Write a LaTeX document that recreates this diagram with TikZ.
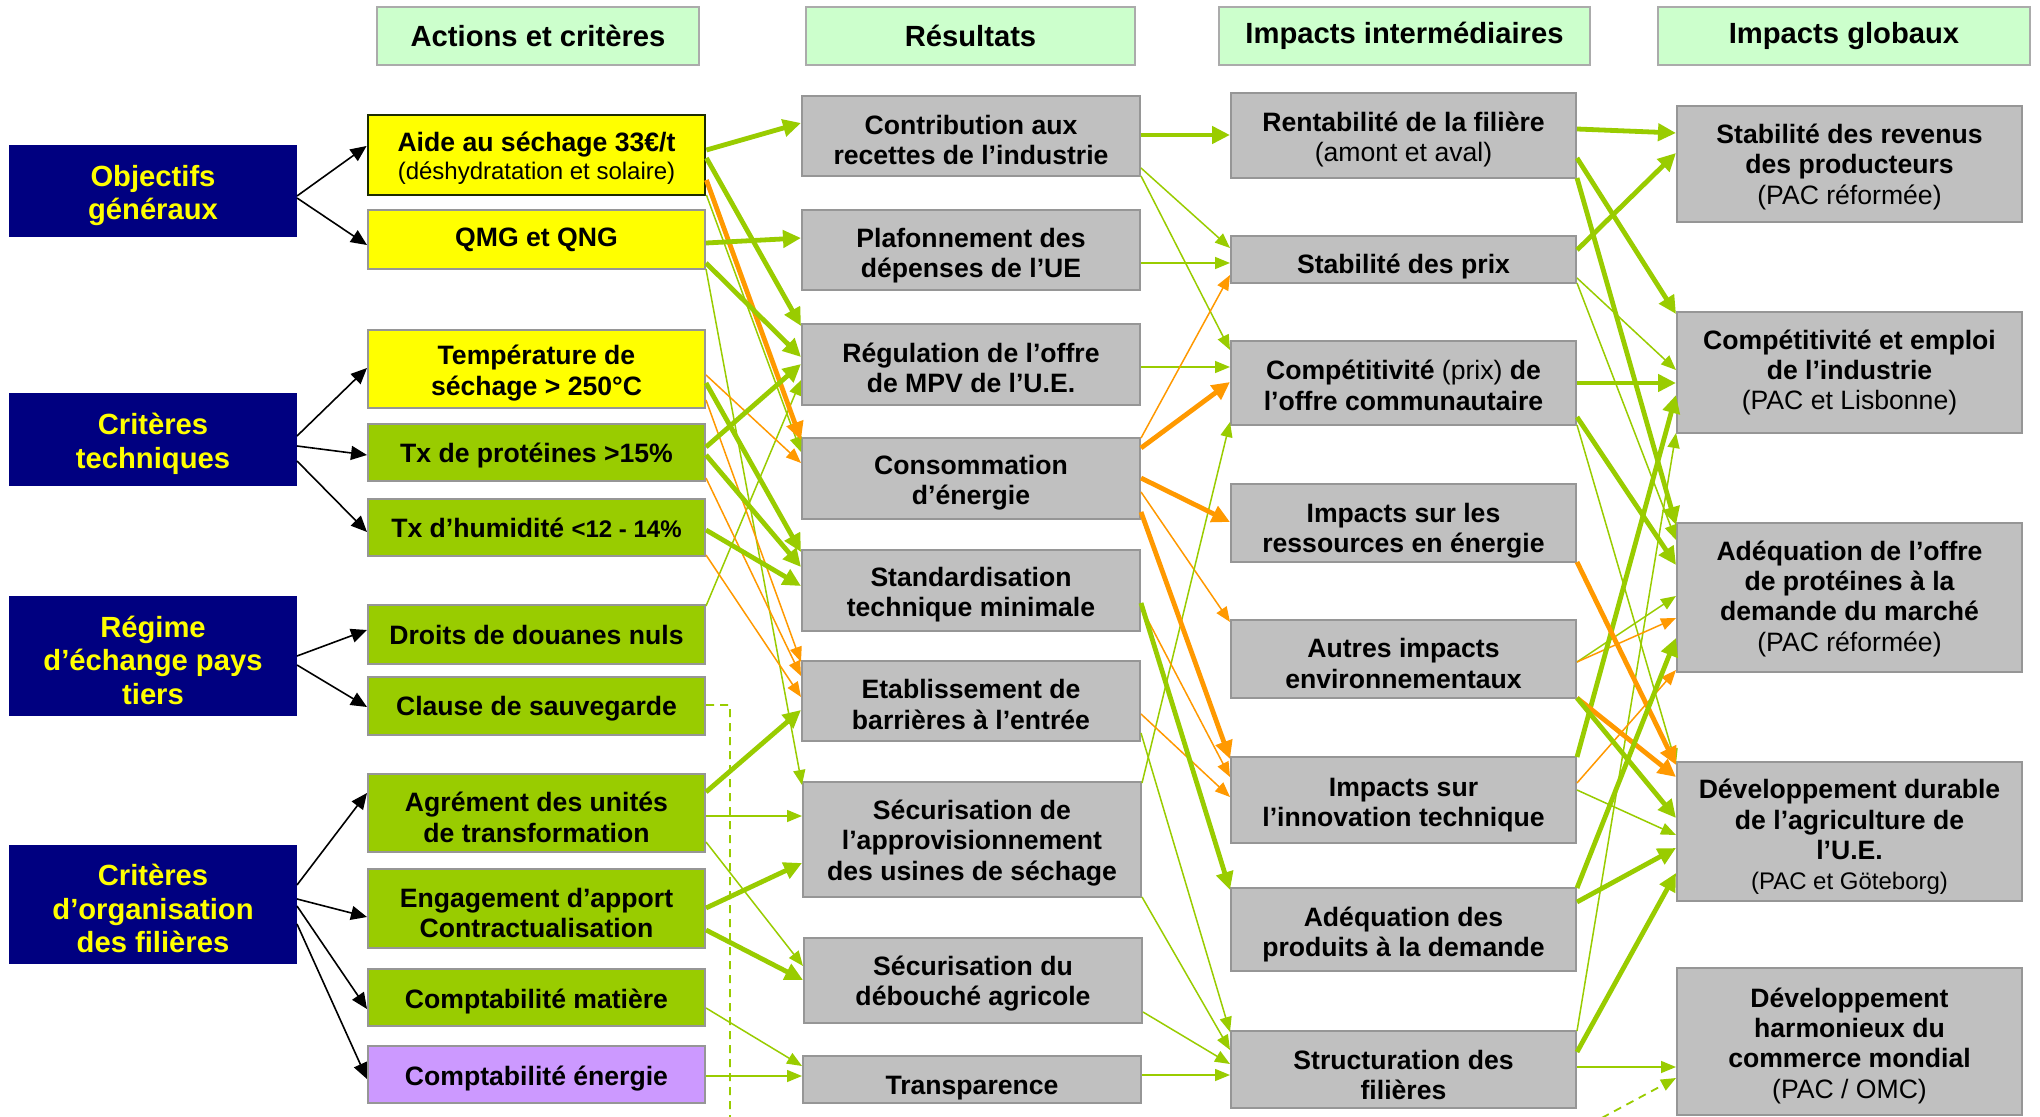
\documentclass[tikz,border=0pt]{standalone}
\usepackage{fontspec}
\setmainfont{Liberation Sans}
\usetikzlibrary{arrows.meta}
\definecolor{agreen}{HTML}{99CC00}
\definecolor{aorange}{HTML}{FF9900}
\definecolor{navyc}{HTML}{000080}
\definecolor{ayel}{HTML}{FFFF00}
\definecolor{hdrg}{HTML}{CCFFCC}
\definecolor{boxg}{HTML}{C0C0C0}
\definecolor{bord}{HTML}{969696}
\definecolor{purp}{HTML}{CC99FF}
\definecolor{aidebord}{HTML}{1E2D00}
\newcommand{\tup}[1]{\rule{0pt}{#1}}
\tikzset{
  basebox/.style={rectangle, inner sep=0pt, align=center, line width=1pt, draw=bord,
    font=\bfseries\fontsize{13.3}{15.2}\selectfont},
  hdr/.style={basebox, fill=hdrg, draw=bord!80, minimum height=29pt,
    font=\bfseries\fontsize{14.6}{17}\selectfont},
  navy/.style={basebox, fill=navyc, draw=navyc, text=ayel, minimum width=143pt,
    font=\bfseries\fontsize{14.6}{16.8}\selectfont},
  ybox/.style={basebox, fill=ayel, minimum width=168.5pt},
  gbox/.style={basebox, fill=agreen, minimum width=168.5pt},
  pbox/.style={basebox, fill=purp, minimum width=168.5pt},
  res/.style={basebox, fill=boxg, minimum width=169pt},
  imi/.style={basebox, fill=boxg, minimum width=172.5pt},
  glo/.style={basebox, fill=boxg, minimum width=172.5pt},
  gk/.style={draw=agreen, line width=2.4pt, -{Triangle[length=9pt,width=8.5pt]}},
  gn/.style={draw=agreen, line width=0.75pt, -{Triangle[length=7.5pt,width=6pt]}},
  ok/.style={draw=aorange, line width=2.4pt, -{Triangle[length=9pt,width=8.5pt]}},
  orn/.style={draw=aorange, line width=0.75pt, -{Triangle[length=7.5pt,width=6pt]}},
  bk/.style={draw=black, line width=0.8pt, -{Triangle[length=8pt,width=7pt]}},
  dsh/.style={draw=agreen, line width=0.9pt, dash pattern=on 4pt off 3pt, -{Triangle[length=7.5pt,width=6pt]}}
}
\begin{document}
\begin{tikzpicture}[x=0.5pt,y=-0.5pt]
\useasboundingbox (0,0) rectangle (2040,1117);
\fill[white] (0,0) rectangle (2040,1117);

% headers
\node[hdr, minimum width=161pt] (h1) at (538,36) {Actions et critères};
\node[hdr, minimum width=164.5pt] (h2) at (970.5,36) {Résultats};
\node[hdr, minimum width=185.5pt] (h3) at (1404.5,36) {Impacts intermédiaires};
\node[hdr, minimum width=186pt] (h4) at (1844,36) {Impacts globaux};

% navy
\node[navy, minimum height=45pt] (obj) at (153,191) {\tup{15pt}Objectifs\\généraux};
\node[navy, minimum height=45.5pt] (tech) at (153,439.5) {\tup{15pt}Critères\\techniques};
\node[navy, minimum height=59pt] (regime) at (153,656) {\tup{15pt}Régime\\d’échange pays\\tiers};
\node[navy, minimum height=58.5pt] (org) at (153,904.5) {\tup{15pt}Critères\\d’organisation\\des filières};

% column 1
\node[ybox, draw=aidebord, line width=1.4pt, minimum height=40pt] (aide) at (536.5,155)
  {\tup{13pt}Aide au séchage 33€/t\\[-1pt]{\mdseries\fontsize{12}{14}\selectfont (déshydratation et solaire)}};
\node[ybox, minimum height=29.5pt] (qmg) at (536.5,239.5) {QMG et QNG};
\node[ybox, minimum height=39pt] (temp) at (536.5,369) {\tup{14pt}Température de\\séchage > 250°C};
\node[gbox, minimum height=28.5pt] (prot) at (536.5,452.5) {\tup{12.5pt}Tx de protéines >15\%};
\node[gbox, minimum height=28.5pt] (hum) at (536.5,527.5) {Tx d’humidité {\fontsize{12}{14}\selectfont <12 - 14\%}};
\node[gbox, minimum height=29.5pt] (droits) at (536.5,634.5) {Droits de douanes nuls};
\node[gbox, minimum height=29pt] (clause) at (536.5,706) {\tup{12.5pt}Clause de sauvegarde};
\node[gbox, minimum height=39pt] (agrem) at (536.5,813) {\tup{14pt}Agrément des unités\\de transformation};
\node[gbox, minimum height=39.5pt] (engag) at (536.5,908.5) {\tup{14pt}Engagement d’apport\\Contractualisation};
\node[gbox, minimum height=28.5pt] (cmat) at (536.5,997.5) {\tup{13.5pt}Comptabilité matière};
\node[pbox, minimum height=28.5pt] (cener) at (536.5,1074.5) {\tup{13.5pt}Comptabilité énergie};

% column 2
\node[res, minimum height=40pt] (contrib) at (971,136) {\tup{13.5pt}Contribution aux\\recettes de l’industrie};
\node[res, minimum height=40pt] (plaf) at (971,250) {\tup{15pt}Plafonnement des\\dépenses de l’UE};
\node[res, minimum height=40.5pt] (regul) at (971,364.5) {\tup{13pt}Régulation de l’offre\\de MPV de l’U.E.};
\node[res, minimum height=40.5pt] (conso) at (971,478.5) {\tup{14pt}Consommation\\d’énergie};
\node[res, minimum height=40.5pt] (standard) at (971,590.5) {\tup{14pt}Standardisation\\technique minimale};
\node[res, minimum height=40pt] (etab) at (971,701) {\tup{13pt}Etablissement de\\barrières à l’entrée};
\node[res, minimum height=57.5pt] (secappro) at (972,839.5) {\tup{13pt}Sécurisation de\\l’approvisionnement\\des usines de séchage};
\node[res, minimum height=42.5pt] (secdeb) at (973,980.5) {\tup{13pt}Sécurisation du\\débouché agricole};
\node[res, minimum height=23.5pt] (transp) at (972,1079.5) {\tup{18pt}Transparence};

% column 3
\node[imi, minimum height=42.5pt] (rent) at (1403.5,135.5) {\tup{14pt}Rentabilité de la filière\\{\mdseries (amont et aval)}};
\node[imi, minimum height=23.5pt] (stabprix) at (1403.5,259.5) {\tup{16.5pt}Stabilité des prix};
\node[imi, minimum height=42pt] (compet) at (1403.5,383) {\tup{12pt}Compétitivité {\mdseries (prix)} de\\l’offre communautaire};
\node[imi, minimum height=39pt] (ressources) at (1403.5,523) {\tup{17.5pt}Impacts sur les\\ressources en énergie};
\node[imi, minimum height=39pt] (autres) at (1403.5,659) {\tup{14pt}Autres impacts\\environnementaux};
\node[imi, minimum height=43pt] (innov) at (1403.5,800) {\tup{14pt}Impacts sur\\l’innovation technique};
\node[imi, minimum height=41.5pt] (adeqprod) at (1403.5,929.5) {\tup{15pt}Adéquation des\\produits à la demande};
\node[imi, minimum height=38.5pt] (struct) at (1403.5,1069.5) {\tup{15pt}Structuration des\\filières};

% column 4
\node[glo, minimum height=58pt] (stabrev) at (1849.5,164) {\tup{12.5pt}Stabilité des revenus\\des producteurs\\{\mdseries (PAC réformée)}};
\node[glo, minimum height=60.5pt] (competemp) at (1849.5,372.5) {Compétitivité et emploi\\de l’industrie\\{\mdseries (PAC et Lisbonne)}};
\node[glo, minimum height=74.5pt] (adeqoffre) at (1849.5,597.5) {\tup{11pt}Adéquation de l’offre\\de protéines à la\\demande du marché\\{\mdseries (PAC réformée)}};
\node[glo, minimum height=69.5pt] (devdur) at (1849.5,831.5) {\tup{15.3pt}Développement durable\\de l’agriculture de\\l’U.E.\\{\mdseries\fontsize{12}{14}\selectfont (PAC et Göteborg)}};
\node[glo, minimum height=73.5pt] (devharm) at (1849.5,1041.5) {\tup{14pt}Développement\\harmonieux du\\commerce mondial\\{\mdseries (PAC / OMC)}};

% black arrows
\draw[bk] (obj.east |- 0,196) -- (aide.west |- 0,146);
\draw[bk] (obj.east |- 0,198) -- (qmg.west |- 0,245);
\draw[bk] (tech.east |- 0,436) -- (temp.west |- 0,368);
\draw[bk] (tech.east |- 0,446) -- (prot.west |- 0,455);
\draw[bk] (tech.east |- 0,461) -- (hum.west |- 0,532);
\draw[bk] (regime.east |- 0,656) -- (droits.west |- 0,630);
\draw[bk] (regime.east |- 0,665) -- (clause.west |- 0,707);
\draw[bk] (org.east |- 0,885) -- (agrem.west |- 0,793);
\draw[bk] (org.east |- 0,899) -- (engag.west |- 0,917);
\draw[bk] (org.east |- 0,906) -- (cmat.west |- 0,1009);
\draw[bk] (org.east |- 0,924) -- (cener.west |- 0,1079);

% column 1 -> column 2
\draw[gn] (aide.east |- 0,195) -- (conso.west |- 0,452);
\draw[gn] (qmg.east |- 0,269) -- (secappro.west |- 0,785);
\draw[gn] (droits.east |- 0,606) -- (regul.west |- 0,380);
\draw[orn] (temp.east |- 0,375) -- (conso.west |- 0,463);
\draw[orn] (temp.east |- 0,400) -- (etab.west |- 0,662);
\draw[orn] (prot.east |- 0,478) -- (etab.west |- 0,676);
\draw[orn] (hum.east |- 0,555) -- (etab.west |- 0,697);
\draw[gn] (agrem.east |- 0,816) -- (secappro.west |- 0,816);
\draw[gn] (agrem.east |- 0,842) -- (secdeb.west |- 0,966);
\draw[gn] (cmat.east |- 0,1008) -- (transp.west |- 0,1066);
\draw[gn] (cener.east |- 0,1076) -- (transp.west |- 0,1076);
\draw[gk] (aide.east |- 0,150) -- (contrib.west |- 0,123);
\draw[gk] (aide.east |- 0,158) -- (regul.west |- 0,326);
\draw[ok] (aide.east |- 0,180) -- (conso.west |- 0,440);
\draw[gk] (qmg.east |- 0,243) -- (plaf.west |- 0,238);
\draw[gk] (qmg.east |- 0,263) -- (regul.west |- 0,357);
\draw[gk] (prot.east |- 0,447) -- (regul.west |- 0,364);
\draw[gk] (temp.east |- 0,383) -- (standard.west |- 0,552);
\draw[gk] (prot.east |- 0,455) -- (standard.west |- 0,567);
\draw[gk] (hum.east |- 0,530) -- (standard.west |- 0,586);
\draw[gk] (agrem.east |- 0,792) -- (etab.west |- 0,710);
\draw[gk] (engag.east |- 0,908) -- (secappro.west |- 0,863);
\draw[gk] (engag.east |- 0,930) -- (secdeb.west |- 0,980);

% column 2 -> column 3
\draw[gn] (contrib.east |- 0,168) -- (stabprix.west |- 0,248);
\draw[gn] (contrib.east |- 0,176) -- (compet.west |- 0,350);
\draw[gn] (plaf.east |- 0,263) -- (stabprix.west |- 0,263);
\draw[gn] (regul.east |- 0,367) -- (compet.west |- 0,367);
\draw[orn] (conso.east |- 0,438) -- (stabprix.west |- 0,275);
\draw[orn] (conso.east |- 0,492) -- (autres.west |- 0,622);
\draw[gn] (secappro.east |- 0,783) -- (compet.west |- 0,422);
\draw[orn] (standard.east |- 0,607) -- (innov.west |- 0,777);
\draw[orn] (etab.east |- 0,714) -- (innov.west |- 0,797);
\draw[gn] (etab.east |- 0,733) -- (struct.west |- 0,1032);
\draw[gn] (secappro.east |- 0,897) -- (struct.west |- 0,1050);
\draw[gn] (secdeb.east |- 0,1012) -- (struct.west |- 0,1064);
\draw[gn] (transp.east |- 0,1075) -- (struct.west |- 0,1075);
\draw[gk] (contrib.east |- 0,135) -- (rent.west |- 0,135);
\draw[ok] (conso.east |- 0,448) -- (compet.west |- 0,382);
\draw[ok] (conso.east |- 0,478) -- (ressources.west |- 0,522);
\draw[ok] (conso.east |- 0,512) -- (innov.west |- 0,759);
\draw[gk] (standard.east |- 0,603) -- (adeqprod.west |- 0,890);

% column 3 -> column 4
\draw[gn] (stabprix.east |- 0,278) -- (competemp.west |- 0,370);
\draw[gn] (stabprix.east |- 0,283) -- (adeqoffre.west |- 0,540);
\draw[gn] (compet.east |- 0,425) -- (devdur.west |- 0,764);
\draw[gn] (struct.east |- 0,1031) -- (competemp.west |- 0,433);
\draw[gn] (autres.east |- 0,662) -- (adeqoffre.west |- 0,596);
\draw[orn] (autres.east |- 0,662) -- (adeqoffre.west |- 0,618);
\draw[orn] (innov.east |- 0,783) -- (adeqoffre.west |- 0,670);
\draw[gn] (innov.east |- 0,790) -- (devdur.west |- 0,835);
\draw[gn] (struct.east |- 0,1067) -- (devharm.west |- 0,1067);
\draw[gk] (rent.east |- 0,129) -- (stabrev.west |- 0,133);
\draw[gk] (rent.east |- 0,158) -- (competemp.west |- 0,314);
\draw[gk] (rent.east |- 0,178) -- (adeqoffre.west |- 0,525);
\draw[gk] (stabprix.east |- 0,250) -- (stabrev.west |- 0,153);
\draw[gk] (compet.east |- 0,383) -- (competemp.west |- 0,383);
\draw[gk] (compet.east |- 0,417) -- (adeqoffre.west |- 0,565);
\draw[gk] (innov.east |- 0,757) -- (competemp.west |- 0,395);
\draw[ok] (ressources.east |- 0,562) -- (devdur.west |- 0,765);
\draw[ok] (autres.east |- 0,698) -- (devdur.west |- 0,777);
\draw[gk] (autres.east |- 0,698) -- (devdur.west |- 0,818);
\draw[gk] (adeqprod.east |- 0,888) -- (adeqoffre.west |- 0,638);
\draw[gk] (adeqprod.east |- 0,902) -- (devdur.west |- 0,848);
\draw[gk] (struct.east |- 0,1052) -- (devdur.west |- 0,873);

% dashed link
\begin{scope}
\clip (0,0) rectangle (2040,1117);
\draw[dsh] (clause.east |- 0,705) -- (730,705) -- (730,1135) -- (1570,1135) -- (devharm.west |- 0,1078);
\end{scope}
\end{tikzpicture}
\end{document}
